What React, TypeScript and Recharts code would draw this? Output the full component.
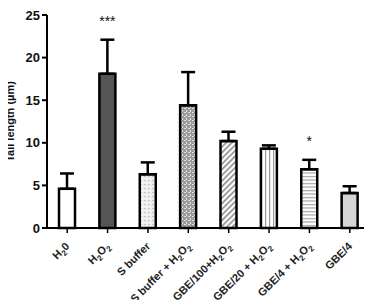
import { Bar, BarChart, Cell, ErrorBar, LabelList, XAxis, YAxis } from "recharts";

// Comet assay tail length per treatment, mean with upper SEM
const groups = ["H20", "H2O2", "S buffer", "S buffer + H2O2", "GBE/100+H2O2", "GBE/20 + H2O2", "GBE/4 + H2O2", "GBE/4"];
const means = [4.6, 18.1, 6.3, 14.4, 10.2, 9.3, 6.9, 4.1];
const errors = [1.8, 4.0, 1.4, 3.9, 1.1, 0.4, 1.1, 0.8];
const marks = ["", "***", "", "", "", "", "*", ""];
const yTicks = [0, 5, 10, 15, 20, 25];
const fills = ["#ffffff", "#555555", "url(#dots)", "url(#check)", "url(#diag)", "url(#vert)", "url(#horiz)", "#d4d4d4"];

const data = groups.map((g, i) => ({ name: g, mean: means[i], err: [0, errors[i]], mark: marks[i] }));

const font = "Arial, 'Liberation Sans', sans-serif";

// a "2" right after H or O is drawn as a subscript
function renderName(name: string) {
  const parts: { t: string; sub: boolean }[] = [];
  for (let i = 0; i < name.length; i++) {
    const c = name[i];
    const sub = c === "2" && (name[i - 1] === "H" || name[i - 1] === "O");
    const last = parts[parts.length - 1];
    if (last && last.sub === sub) last.t += c;
    else parts.push({ t: c, sub });
  }
  return parts.map((p, i) =>
    p.sub ? (
      <tspan key={i} fontSize={8} dy={3}>{p.t}</tspan>
    ) : (
      <tspan key={i} dy={i > 0 && parts[i - 1].sub ? -3 : 0}>{p.t}</tspan>
    )
  );
}

function GroupTick({ x, y, payload }: any) {
  return (
    <g transform={`translate(${x + 3} ${y + 12}) rotate(-45)`}>
      <text x={0} y={0} textAnchor="end" fontFamily={font} fontWeight="bold" fontSize={11} fill="#222">
        {renderName(payload.value)}
      </text>
    </g>
  );
}

function AxisTitle({ viewBox }: any) {
  const cy = viewBox.y + viewBox.height / 2;
  return (
    <text
      x={14}
      y={cy}
      transform={`rotate(-90 14 ${cy})`}
      textAnchor="middle"
      fontFamily={font}
      fontWeight="bold"
      fontSize={11}
      fill="#111"
    >
      Tail length (µm)
    </text>
  );
}

export default function App() {
  return (
    <div style={{ margin: -8, width: 372, height: 308, background: "#fff" }}>
      <BarChart width={372} height={308} data={data} barCategoryGap={12} margin={{ top: 15, right: 2, bottom: 0, left: 0 }}>
        <defs>
          <pattern id="dots" width="4" height="4" patternUnits="userSpaceOnUse">
            <rect width="4" height="4" fill="#ececec" />
            <rect x="0" y="0" width="2" height="1" fill="#c8c8c8" />
            <rect x="2" y="2" width="1" height="2" fill="#fafafa" />
          </pattern>
          <pattern id="check" width="4" height="4" patternUnits="userSpaceOnUse">
            <rect width="4" height="4" fill="#9a9a9a" />
            <rect x="0" y="0" width="2" height="1" fill="#e0e0e0" />
            <rect x="2" y="2" width="1" height="2" fill="#e0e0e0" />
          </pattern>
          <pattern id="diag" width="4" height="4" patternUnits="userSpaceOnUse" patternTransform="rotate(45)">
            <rect width="4" height="4" fill="#fff" />
            <rect width="1.6" height="4" fill="#8a8a8a" />
          </pattern>
          <pattern id="vert" width="4" height="4" patternUnits="userSpaceOnUse">
            <rect width="4" height="4" fill="#fff" />
            <rect x="1" width="1.2" height="4" fill="#9a9a9a" />
          </pattern>
          <pattern id="horiz" width="4" height="3.5" patternUnits="userSpaceOnUse">
            <rect width="4" height="3.5" fill="#fff" />
            <rect y="1" width="4" height="1.1" fill="#9a9a9a" />
          </pattern>
        </defs>
        <XAxis
          dataKey="name"
          interval={0}
          tick={<GroupTick />}
          tickSize={5}
          axisLine={{ stroke: "#000", strokeWidth: 2 }}
          tickLine={{ stroke: "#000", strokeWidth: 1.5 }}
          height={80}
        />
        <YAxis
          domain={[0, 25]}
          ticks={yTicks}
          width={47}
          tickSize={5}
          axisLine={{ stroke: "#000", strokeWidth: 2 }}
          tickLine={{ stroke: "#000", strokeWidth: 2 }}
          tick={{ fill: "#111", fontSize: 13, fontWeight: "bold", fontFamily: font }}
          label={<AxisTitle />}
        />
        <Bar dataKey="mean" stroke="#000" strokeWidth={2.5} isAnimationActive={false}>
          {data.map((d, i) => (
            <Cell key={d.name} fill={fills[i]} />
          ))}
          <ErrorBar dataKey="err" width={7} stroke="#000" strokeWidth={2.5} direction="y" />
          <LabelList
            dataKey="mark"
            content={({ x, y, width, index }: any) => {
              const m = marks[index];
              if (!m) return null;
              const py = Number(y) - errors[index] * 8.52 - 14;
              return (
                <text x={Number(x) + Number(width) / 2} y={py} textAnchor="middle" fontFamily={font} fontSize={14} fill="#111">
                  {m}
                </text>
              );
            }}
          />
        </Bar>
      </BarChart>
    </div>
  );
}
